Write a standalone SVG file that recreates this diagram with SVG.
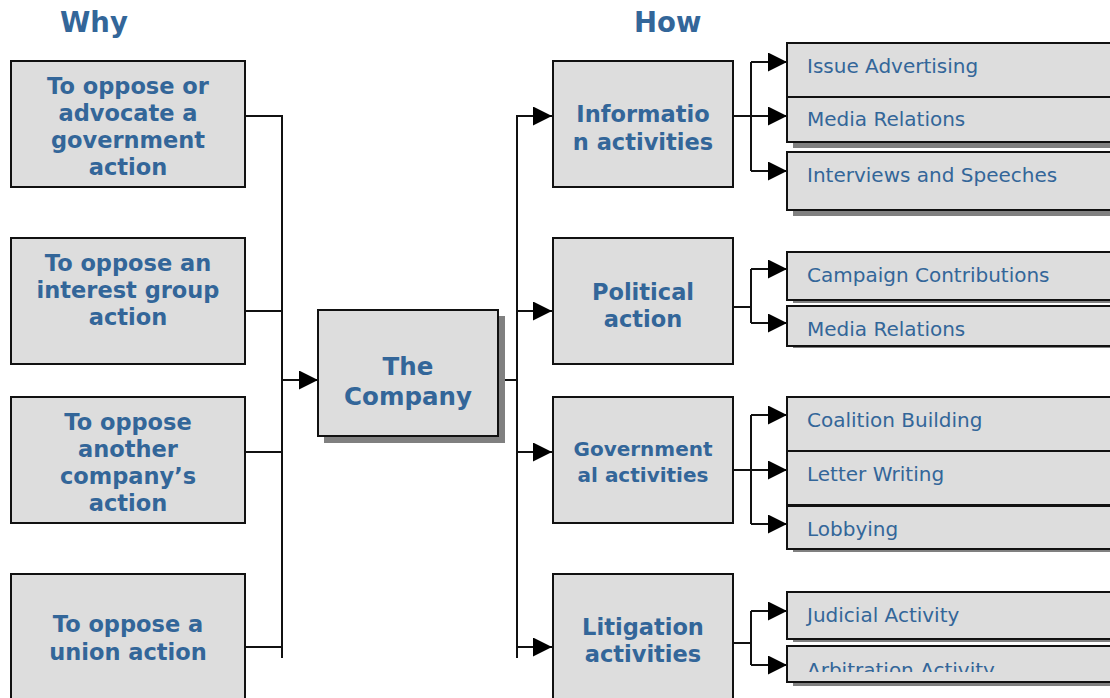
<svg xmlns="http://www.w3.org/2000/svg" width="1110" height="698" viewBox="0 0 1110 698">
  <style>
    .box { fill: #dddddd; stroke: #111111; stroke-width: 2; }
    .shadow { fill: #808080; }
    .head { font-family: "DejaVu Sans", Verdana, sans-serif; font-weight: bold; font-size: 27.5px; fill: #336699; }
    .bold { font-family: "DejaVu Sans", Verdana, sans-serif; font-weight: bold; font-size: 22.5px; fill: #336699; text-anchor: middle; }
    .big { font-size: 24.5px; }
    .small { font-size: 20px; }
    .item { font-family: "DejaVu Sans", Verdana, sans-serif; font-size: 20px; fill: #336699; }
    .wire { fill: none; stroke: #111111; stroke-width: 2; }
  </style>
  <defs>
    <marker id="arrow" viewBox="0 0 19 19" refX="19" refY="9.5" markerWidth="19" markerHeight="19" markerUnits="userSpaceOnUse" orient="auto">
      <path d="M0,0 L19,9.5 L0,19 Z" fill="#000000"/>
    </marker>
    <clipPath id="clipArb">
      <rect x="787" y="646" width="340" height="26"/>
    </clipPath>
  </defs>
  <rect width="1110" height="698" fill="#ffffff"/>

  <!-- column headings -->
  <text class="head" x="60" y="32">Why</text>
  <text class="head" x="634" y="32">How</text>

  <!-- connectors -->
  <g id="connectors">
    <!-- reasons into the company -->
    <path class="wire" d="M245,116 H282 M245,311 H282 M245,452 H282 M245,647 H282 M282,115 V658"/>
    <path class="wire" d="M282,380 H318" marker-end="url(#arrow)"/>
    <!-- company out to activity groups -->
    <path class="wire" d="M498,380 H517 M517,115 V658"/>
    <path class="wire" d="M517,116 H552" marker-end="url(#arrow)"/>
    <path class="wire" d="M517,311 H552" marker-end="url(#arrow)"/>
    <path class="wire" d="M517,452 H552" marker-end="url(#arrow)"/>
    <path class="wire" d="M517,647 H552" marker-end="url(#arrow)"/>
    <!-- information branches -->
    <path class="wire" d="M733,116 H751 M751,62 V171"/>
    <path class="wire" d="M751,62 H787" marker-end="url(#arrow)"/>
    <path class="wire" d="M751,116 H787" marker-end="url(#arrow)"/>
    <path class="wire" d="M751,171 H787" marker-end="url(#arrow)"/>
    <!-- political branches -->
    <path class="wire" d="M733,307 H751 M751,269 V323"/>
    <path class="wire" d="M751,269 H787" marker-end="url(#arrow)"/>
    <path class="wire" d="M751,323 H787" marker-end="url(#arrow)"/>
    <!-- governmental branches -->
    <path class="wire" d="M733,470 H751 M751,415 V524"/>
    <path class="wire" d="M751,415 H787" marker-end="url(#arrow)"/>
    <path class="wire" d="M751,470 H787" marker-end="url(#arrow)"/>
    <path class="wire" d="M751,524 H787" marker-end="url(#arrow)"/>
    <!-- litigation branches -->
    <path class="wire" d="M733,643 H751 M751,611 V665"/>
    <path class="wire" d="M751,611 H787" marker-end="url(#arrow)"/>
    <path class="wire" d="M751,665 H787" marker-end="url(#arrow)"/>
  </g>

  <!-- reasons -->
  <g id="why-government">
    <rect class="box" x="11" y="61" width="234" height="126"/>
    <text class="bold" x="128" y="94">To oppose or</text>
    <text class="bold" x="128" y="121">advocate a</text>
    <text class="bold" x="128" y="148">government</text>
    <text class="bold" x="128" y="175">action</text>
  </g>
  <g id="why-interest-group">
    <rect class="box" x="11" y="238" width="234" height="126"/>
    <text class="bold" x="128" y="271">To oppose an</text>
    <text class="bold" x="128" y="298">interest group</text>
    <text class="bold" x="128" y="325">action</text>
  </g>
  <g id="why-company">
    <rect class="box" x="11" y="397" width="234" height="126"/>
    <text class="bold" x="128" y="430">To oppose</text>
    <text class="bold" x="128" y="457">another</text>
    <text class="bold" x="128" y="484">company’s</text>
    <text class="bold" x="128" y="511">action</text>
  </g>
  <g id="why-union">
    <rect class="box" x="11" y="574" width="234" height="140"/>
    <text class="bold" x="128" y="632">To oppose a</text>
    <text class="bold" x="128" y="660">union action</text>
  </g>

  <!-- central node -->
  <g id="company">
    <rect class="shadow" x="324" y="316" width="181" height="127"/>
    <rect class="box" x="318" y="310" width="180" height="126"/>
    <text class="bold big" x="408" y="375">The</text>
    <text class="bold big" x="408" y="405">Company</text>
  </g>

  <!-- activity groups -->
  <g id="how-information">
    <rect class="box" x="553" y="61" width="180" height="126"/>
    <text class="bold" x="643" y="122">Informatio</text>
    <text class="bold" x="643" y="150">n activities</text>
  </g>
  <g id="how-political">
    <rect class="box" x="553" y="238" width="180" height="126"/>
    <text class="bold" x="643" y="300">Political</text>
    <text class="bold" x="643" y="327">action</text>
  </g>
  <g id="how-governmental">
    <rect class="box" x="553" y="397" width="180" height="126"/>
    <text class="bold small" x="643" y="456">Government</text>
    <text class="bold small" x="643" y="482">al activities</text>
  </g>
  <g id="how-litigation">
    <rect class="box" x="553" y="574" width="180" height="140"/>
    <text class="bold" x="643" y="635">Litigation</text>
    <text class="bold" x="643" y="662">activities</text>
  </g>

  <!-- information tactics -->
  <g id="issue-advertising">
    <rect class="shadow" x="793" y="49" width="340" height="54"/>
    <rect class="box" x="787" y="43" width="340" height="54"/>
    <text class="item" x="807" y="73">Issue Advertising</text>
  </g>
  <g id="media-relations-info">
    <rect class="shadow" x="793" y="103" width="340" height="45"/>
    <rect class="box" x="787" y="97" width="340" height="45"/>
    <text class="item" x="807" y="126">Media Relations</text>
  </g>
  <g id="interviews-speeches">
    <rect class="shadow" x="793" y="158" width="340" height="58"/>
    <rect class="box" x="787" y="152" width="340" height="58"/>
    <text class="item" x="807" y="182">Interviews and Speeches</text>
  </g>

  <!-- political tactics -->
  <g id="campaign-contributions">
    <rect class="shadow" x="793" y="256" width="340" height="47"/>
    <rect class="box" x="787" y="252" width="340" height="48"/>
    <text class="item" x="807" y="282">Campaign Contributions</text>
  </g>
  <g id="media-relations-political">
    <rect class="shadow" x="793" y="310" width="340" height="38"/>
    <rect class="box" x="787" y="306" width="340" height="40"/>
    <text class="item" x="807" y="336">Media Relations</text>
  </g>

  <!-- governmental tactics -->
  <g id="coalition-building">
    <rect class="box" x="787" y="397" width="340" height="54"/>
    <text class="item" x="807" y="427">Coalition Building</text>
  </g>
  <g id="letter-writing">
    <rect class="box" x="787" y="451" width="340" height="54"/>
    <text class="item" x="807" y="481">Letter Writing</text>
  </g>
  <g id="lobbying">
    <rect class="shadow" x="793" y="510" width="340" height="42"/>
    <rect class="box" x="787" y="506" width="340" height="43"/>
    <text class="item" x="807" y="536">Lobbying</text>
  </g>

  <!-- litigation tactics -->
  <g id="judicial-activity">
    <rect class="shadow" x="793" y="596" width="340" height="46"/>
    <rect class="box" x="787" y="592" width="340" height="47"/>
    <text class="item" x="807" y="622">Judicial Activity</text>
  </g>
  <g id="arbitration-activity">
    <rect class="shadow" x="793" y="650" width="340" height="36"/>
    <rect class="box" x="787" y="646" width="340" height="36"/>
    <text class="item" x="807" y="677" clip-path="url(#clipArb)">Arbitration Activity</text>
  </g>
</svg>
